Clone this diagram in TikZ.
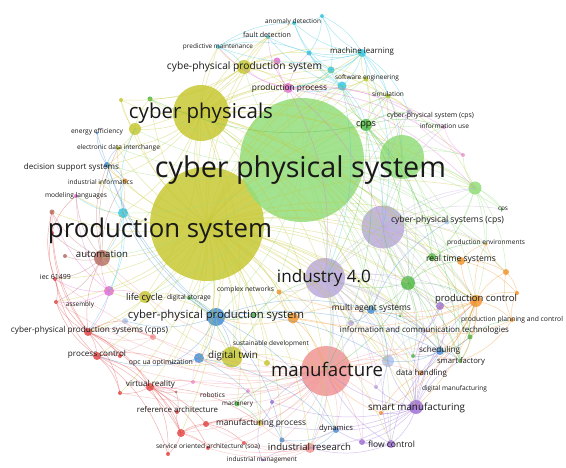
\documentclass[tikz,border=0pt]{standalone}
\usepackage{fontspec}
\setmainfont{Open Sans}
\usepackage{graphicx}
\usetikzlibrary{backgrounds}
\definecolor{ylw}{RGB}{200,200,52}
\definecolor{lgr}{RGB}{148,222,124}
\definecolor{grn}{RGB}{78,185,68}
\definecolor{lav}{RGB}{188,170,222}
\definecolor{pur}{RGB}{160,115,215}
\definecolor{sal}{RGB}{242,150,150}
\definecolor{rd}{RGB}{228,72,72}
\definecolor{blu}{RGB}{72,145,215}
\definecolor{lblu}{RGB}{178,200,238}
\definecolor{cyn}{RGB}{60,200,225}
\definecolor{org}{RGB}{245,150,50}
\definecolor{mag}{RGB}{228,110,215}
\definecolor{pnk}{RGB}{240,150,220}
\definecolor{brn}{RGB}{180,112,100}
\tikzset{
  nd/.style={circle, inner sep=0pt, draw=none, fill=#1, fill opacity=0.85},
  ed/.style={draw=#1, line width=0.5pt, draw opacity=0.42, bend left=17},
  lbl/.style={anchor=base, inner sep=0pt, text=black!90}
}
\begin{document}
\begin{tikzpicture}[x=1pt,y=-1pt]
\useasboundingbox (0,0) rectangle (566,468);
\begin{pgfonlayer}{background}
\fill[white] (0,0) rectangle (566,468);
% nodes
\foreach \nn/\xx/\yy/\rr/\cc in {
ps/207/224/57/ylw, cpsys/302/160/62/lgr, g2/402/157/22/lgr, cph/201/113/28/ylw,
i40/325/278/20/lav, cpss/383/227/21.5/lav, manu/326/371/25/sal,
cpps1/244/67/7/ylw, pp/288/88/5/mag, pk4/277/61/3.5/mag, ml/362/53/4/cyn,
ad/294/23/2/cyn, fd/268/37/2/cyn, pm/218/47/2/cyn, se/366/79/2.5/ylw,
sim/388/96/2.5/ylw, cpsc/409/112/2.5/lav, iu/444/127/2/pnk, cppsg/366/125/6/grn,
c1/342/86/4.5/cyn, c2/331/70/3.5/cyn, c3/309/53/2.5/cyn, c4/322/16/2/cyn,
pk1/463/155/2/pnk, gs1/150/99/2.5/grn, ys1/121/100/2/ylw, ee/135/129/6/ylw,
ee2/97/133/1.5/blu, edi/118/148/2/ylw, dss/107/165/3/blu, ii/125/181/2.5/org,
ii2/100/183/1.5/ylw, mlang/76/196/2/mag, cy5/123/213/5/cyn, br1/52/212/2.5/brn,
r1/52/233/2/rd, br2/65/256/2/brn, auto/102/258/8/brn, iec/55/279/2/rd,
pk2/109/291/5/mag, lc/145/297/6/ylw, dst/189/298/2/grn, asm/56/302/2/rd,
cn/279/292/2.5/org, bl1/447/222/2.5/lblu, cpsg/502/209/1.5/grn, g3/475/188/6.5/lgr,
pe/486/244/1.5/org, rts/432/257/4/grn, o2/461/261/4/org, g4/408/283/7/grn,
o3/506/272/3/org, o4/517/293/2/org, pc/476/301/6/org, pu1/440/306/4/pur,
ppc/512/320/2/org,
mas/371/310/4/blu, g5/400/316/1.5/grn, cpps2/216/317/9/blu, g6/254/315/2.5/grn,
o5/293/318/5.5/org, cppsr/88/332/4/rd, lb2/125/321/3/lblu, sal2/153/337/3/sal,
prc/97/356/4/rd, r2/120/356/2/rd, opc/172/363/1.5/blu, dtb/199/358/5/blu,
dty/232/357/10.5/ylw, y2/267/363/3/ylw, ict/424/331/2/lav, lav3/351/323/3/lav,
g8/470/337/2.5/grn, sch/440/351/4/blu, g7/413/356/2/grn, sf/460/361/2/grn,
dh/421/373/2.5/org, lb/388/361/6/lblu, lav2/376/387/2/lav, sm/416/407/7/pur,
o6/381/413/2/org, fc/391/444/4/pur, pu2/362/442/3/pur, dyn/336/430/3/blu,
ir/310/448/5/sal, im/262/460/1.5/pur, mp/260/423/3/ylw, mach/237/404/2.5/grn,
rob/193/382/2/pnk, pk3/248/391/2/pnk, pu3/272/402/2/pur, vr/150/387/4/rd,
r3/120/393/2/rd, brs/176/392/1.5/brn, ra/177/412/2/rd, b2/282/440/2.5/blu,
rs1/181/433/4/rd, rs2/206/424/3/rd, rs3/208/448/2/rd, rs4/244/443/2/rd, rs5/168/454/2/rd}
  \node[nd=\cc, minimum size=2pt*\rr] (\nn) at (\xx,\yy) {};
\end{pgfonlayer}
% edges
\foreach \t in {cph,cpsys,g2,i40,cpss,manu,cpps1,pp,ml,pm,fd,se,sim,c1,c2,cppsg,ee,edi,dss,ii,ii2,mlang,cy5,br1,auto,iec,pk2,lc,dst,asm,cn,g3,rts,o2,pe,g4,pc,pu1,mas,cpps2,g6,o5,cppsr,prc,opc,dtb,dty,y2,ict,sch,sf,dh,lb,sm,fc,dyn,ir,mp,mach,vr,r3,rs1,rob,gs1,ys1,lav3,b2,bl1}
  \draw[ed=ylw] (ps.center) to (\t.center);
\foreach \t in {cpps1,pm,fd,pp,pk4,se,sim,c1,c2,cppsg,g2,ee,edi,dss,ii2,ys1,gs1,auto,cy5,i40,cpss,manu,cpps2,dty,lc,rts,g3,sm,g4,mas,pc}
  \draw[ed=ylw] (cph.center) to (\t.center);
\foreach \t in {pm,fd,ad,pp,pk4,se,sim,c3,ml,ee,g2,ys1,gs1}
  \draw[ed=ylw] (cpps1.center) to (\t.center);
\foreach \t in {dtb,cpps2,manu,i40,mp,y2,opc,lc}
  \draw[ed=ylw] (dty.center) to (\t.center);
\foreach \t in {pk2,auto,cppsr,dst,cpps2}
  \draw[ed=ylw] (lc.center) to (\t.center);
\foreach \t in {edi,ys1,gs1,dss}
  \draw[ed=ylw] (ee.center) to (\t.center);
\foreach \t in {ml,c1,sim,cppsg,g2}
  \draw[ed=ylw] (se.center) to (\t.center);
\foreach \t in {cppsg,g2,cpsc,g3}
  \draw[ed=ylw] (sim.center) to (\t.center);
\foreach \t in {cph,cpps1,pp,c1,c2,ml,se,sim,cpsc,iu,pk1,cppsg,g2,g3,cpsg,bl1,pe,rts,g4,o3,pc,i40,cpss,mas,g5,cpps2,dty,manu,sch,sf,g7,sm,ee,edi,dss,auto,cy5,lc,dst,ir,fc,ict,g8,gs1,o2,lb}
  \draw[ed=lgr] (cpsys.center) to (\t.center);
\foreach \t in {cppsg,sim,cpsc,iu,pk1,g3,cpsg,cpss,rts,g4,i40,pc,manu,sf,se,c1}
  \draw[ed=lgr] (g2.center) to (\t.center);
\foreach \t in {cpsg,pe,o3,rts,pk1,cpss,g4,pc}
  \draw[ed=lgr] (g3.center) to (\t.center);
\foreach \t in {sim,iu,cpsc,rts,g4,i40,manu,sf,c1,gs1}
  \draw[ed=grn] (cppsg.center) to (\t.center);
\foreach \t in {rts,pc,sch,g5,g7,sf,i40,mas,manu,cpss,g8,o2}
  \draw[ed=grn] (g4.center) to (\t.center);
\foreach \a/\b in {dst/cpps2,dst/dty,g6/cpps2,g6/o5,g6/i40,mach/mp,mach/pk3,mach/manu,rts/o2,rts/pe,rts/g8,g8/sf,g8/sch,g8/pc,g8/ppc}
  \draw[ed=grn] (\a.center) to (\b.center);
\foreach \t in {ad,fd,c1,c2,c3,c4,se,pm,pp,sim,cpsc,g2,cpss}
  \draw[ed=cyn] (ml.center) to (\t.center);
\foreach \a/\b in {c1/c2,c1/c3,c1/pp,c1/ad,c1/fd,c1/cpss,c1/i40,c1/cppsg,c4/ad,c4/c3,c4/ml,c4/c2,pm/fd,pm/ad,pm/c3,pm/cpps1,c2/c3,c2/ad,c2/pp,cy5/dss,cy5/ii,cy5/pk2,cy5/cppsr,cy5/auto,cy5/ee,cy5/mlang}
  \draw[ed=cyn] (\a.center) to (\b.center);
\foreach \t in {pm,c3,fd,cpps1,iu,pk1,cpsc,g3,cpss,i40,pk4}
  \draw[ed=mag] (pp.center) to (\t.center);
\foreach \t in {auto,lc,cppsr,asm,iec,mlang,br1}
  \draw[ed=mag] (pk2.center) to (\t.center);
\foreach \a/\b in {pk1/iu,pk1/cpsc,rob/pk3,rob/vr,rob/dtb}
  \draw[ed=pnk] (\a.center) to (\b.center);
\foreach \t in {cpss,mas,sm,manu,ict,lb,pu1,pc,g4,sch,sf,dh,fc,pu2,lav2,ir,dyn,g3,cpsc,bl1,lav3,cn,o5}
  \draw[ed=lav] (i40.center) to (\t.center);
\foreach \t in {bl1,g3,cpsg,pe,rts,pc,pu1,sm,sch,ict,mas,manu,iu,cpsc,o2,lb}
  \draw[ed=lav] (cpss.center) to (\t.center);
\foreach \t in {fc,pu2,o6,lb,manu,sch,sf,dh,pc,pu1,dyn,ir,ict,lav2,mp,pu3,g8}
  \draw[ed=pur] (sm.center) to (\t.center);
\foreach \a/\b in {fc/pu2,fc/manu,fc/ir,fc/dyn,fc/sch,fc/lb,pu1/pc,pu1/ict,pu1/sch,pu3/manu,pu3/mp,im/ir,im/mp}
  \draw[ed=pur] (\a.center) to (\b.center);
\foreach \t in {o2,o3,o4,pe,rts,dh,sch,sf,pu1,o5,cn,manu,ict,g5,sm,o6,g8,ppc}
  \draw[ed=org] (pc.center) to (\t.center);
\foreach \a/\b in {o5/cn,o5/cpps2,o5/manu,o5/dh,o5/mas,o2/pe,o2/o3,o2/o4,o3/o4,o3/pe,o6/dh,o6/manu,ii/dss,ii/edi,ii/auto,ppc/o4,ppc/o3,ppc/sf,ppc/ict}
  \draw[ed=org] (\a.center) to (\b.center);
\foreach \t in {ir,dyn,mp,pu2,vr,prc,cppsr,r3,rs1,rs2,rs3,rs4,dtb,opc,auto,asm,iec,rob,mach,lb,dh,sch,sf,o6,sal2,pk3,pu3,b2,lav2,y2}
  \draw[ed=sal] (manu.center) to (\t.center);
\foreach \a/\b in {ir/mp,ir/dyn,ir/rs1,ir/rs3,ir/im,ir/rs4,ir/b2,ir/rs2,sal2/cppsr,sal2/prc,sal2/lb2}
  \draw[ed=sal] (\a.center) to (\b.center);
\foreach \t in {prc,asm,iec,r1,br1,vr,r2,sal2,lb2,rs1,r3,auto}
  \draw[ed=rd] (cppsr.center) to (\t.center);
\foreach \t in {vr,r3,r2,asm,iec,rs1,opc,rs5}
  \draw[ed=rd] (prc.center) to (\t.center);
\foreach \t in {r3,rs1,rs2,rs3,rs5,ra,mp,rob,brs}
  \draw[ed=rd] (vr.center) to (\t.center);
\foreach \a/\b in {rs1/rs5,rs1/rs3,rs1/rs2,rs1/mp,rs1/ra,rs2/rs4,rs2/mp,iec/asm,iec/r1,iec/br1,r1/br1,r1/mlang}
  \draw[ed=rd] (\a.center) to (\b.center);
\foreach \t in {br1,r1,br2,iec,asm,mlang,ii,edi,dss}
  \draw[ed=brn] (auto.center) to (\t.center);
\foreach \a/\b in {brs/vr,brs/ra}
  \draw[ed=brn] (\a.center) to (\b.center);
\foreach \t in {dtb,opc,dss,cy5,mas,sch,dyn,lb2,dty,g6,b2,lb,ee2}
  \draw[ed=blu] (cpps2.center) to (\t.center);
\foreach \a/\b in {mas/sch,mas/ict,mas/lb,mas/bl1,mas/lav3,dtb/opc,dtb/b2,dtb/dyn,dtb/prc,sch/lb,sch/sf,sch/dh,sch/g7,dss/ii,dss/edi,dss/ee2,dyn/b2,dyn/ir}
  \draw[ed=blu] (\a.center) to (\b.center);
\foreach \a/\b in {lb/sch,lb/lav2,lb/ict,lb2/cpps2,lb2/cppsr}
  \draw[ed=lblu] (\a.center) to (\b.center);
% labels
\node[lbl] (l1) at (160,238) {\resizebox{224pt}{!}{production system}};
\node[lbl] (l2) at (300.5,178) {\resizebox{291pt}{!}{cyber physical system}};
\node[lbl] (l3) at (201,119) {\resizebox{144pt}{!}{cyber physicals}};
\node[lbl] (l4) at (244.5,70) {\resizebox{155pt}{!}{cybe-physical production system}};
\node[lbl] (l5) at (289.5,91) {\resizebox{75pt}{!}{production process}};
\node[lbl] (l6) at (362,54) {\resizebox{64pt}{!}{machine learning}};
\node[lbl] (l7) at (293,24) {\resizebox{56pt}{!}{anomaly detection}};
\node[lbl] (l8) at (267,38) {\resizebox{48pt}{!}{fault detection}};
\node[lbl] (l9) at (218,49) {\resizebox{70pt}{!}{predictive maintenance}};
\node[lbl] (l10) at (367,80) {\resizebox{64pt}{!}{software engineering}};
\node[lbl] (l11) at (388,97) {\resizebox{32pt}{!}{simulation}};
\node[lbl] (l12) at (430.5,118) {\resizebox{87pt}{!}{cyber-physical system (cps)}};
\node[lbl] (l13) at (444.5,129) {\resizebox{49pt}{!}{information use}};
\node[lbl] (l14) at (366,127) {\resizebox{20pt}{!}{cpps}};
\node[lbl] (l15) at (97,134) {\resizebox{52pt}{!}{energy efficiency}};
\node[lbl] (l16) at (118.5,150) {\resizebox{83pt}{!}{electronic data interchange}};
\node[lbl] (l17) at (71.5,170) {\resizebox{95pt}{!}{decision support systems}};
\node[lbl] (l18) at (100.5,185) {\resizebox{65pt}{!}{industrial informatics}};
\node[lbl] (l19) at (76,198) {\resizebox{62pt}{!}{modeling languages}};
\node[lbl] (l20) at (102,258) {\resizebox{52pt}{!}{automation}};
\node[lbl] (l21) at (55.5,280) {\resizebox{31pt}{!}{iec 61499}};
\node[lbl] (l22) at (144.5,301) {\resizebox{37pt}{!}{life cycle}};
\node[lbl] (l23) at (189,300) {\resizebox{44pt}{!}{digital storage}};
\node[lbl] (l24) at (80,307) {\resizebox{28pt}{!}{assembly}};
\node[lbl] (l25) at (245.5,292) {\resizebox{57pt}{!}{complex networks}};
\node[lbl] (l26) at (324,283) {\resizebox{94pt}{!}{industry 4.0}};
\node[lbl] (l27) at (447.5,223) {\resizebox{113pt}{!}{cyber-physical systems (cps)}};
\node[lbl] (l28) at (503,211) {\resizebox{10pt}{!}{cps}};
\node[lbl] (l29) at (486,245) {\resizebox{78pt}{!}{production environments}};
\node[lbl] (l30) at (461,262) {\resizebox{70pt}{!}{real time systems}};
\node[lbl] (l31) at (476,302) {\resizebox{82pt}{!}{production control}};
\node[lbl] (l56) at (512,322) {\resizebox{102pt}{!}{production planning and control}};
\node[lbl] (l32) at (371.5,311) {\resizebox{79pt}{!}{multi agent systems}};
\node[lbl] (l33) at (216,319) {\resizebox{176pt}{!}{cyber-physical production system}};
\node[lbl] (l34) at (89.5,333) {\resizebox{157pt}{!}{cyber-physical production systems (cpps)}};
\node[lbl] (l35) at (97,357) {\resizebox{58pt}{!}{process control}};
\node[lbl] (l36) at (161,365) {\resizebox{64pt}{!}{opc ua optimization}};
\node[lbl] (l37) at (233,359) {\resizebox{50pt}{!}{digital twin}};
\node[lbl] (l38) at (271,346) {\resizebox{76pt}{!}{sustainable development}};
\node[lbl] (l39) at (424.5,333) {\resizebox{169pt}{!}{information and communication technologies}};
\node[lbl] (l40) at (327,377) {\resizebox{112pt}{!}{manufacture}};
\node[lbl] (l41) at (439.5,353) {\resizebox{41pt}{!}{scheduling}};
\node[lbl] (l42) at (461,363) {\resizebox{48pt}{!}{smart factory}};
\node[lbl] (l43) at (421.5,375) {\resizebox{51pt}{!}{data handling}};
\node[lbl] (l44) at (454.5,391) {\resizebox{65pt}{!}{digital manufacturing}};
\node[lbl] (l45) at (416.5,410) {\resizebox{97pt}{!}{smart manufacturing}};
\node[lbl] (l46) at (391.5,447) {\resizebox{47pt}{!}{flow control}};
\node[lbl] (l47) at (336,431) {\resizebox{34pt}{!}{dynamics}};
\node[lbl] (l48) at (309.5,450) {\resizebox{83pt}{!}{industrial research}};
\node[lbl] (l49) at (262,462) {\resizebox{70pt}{!}{industrial management}};
\node[lbl] (l50) at (208,449) {\resizebox{104pt}{!}{service oriented architecture (soa)}};
\node[lbl] (l51) at (261,425) {\resizebox{90pt}{!}{manufacturing process}};
\node[lbl] (l52) at (177.5,413) {\resizebox{81pt}{!}{reference architecture}};
\node[lbl] (l53) at (237.5,405) {\resizebox{31pt}{!}{machinery}};
\node[lbl] (l54) at (212.5,397) {\resizebox{25pt}{!}{robotics}};
\node[lbl] (l55) at (150.5,387) {\resizebox{49pt}{!}{virtual reality}};
\end{tikzpicture}
\end{document}
